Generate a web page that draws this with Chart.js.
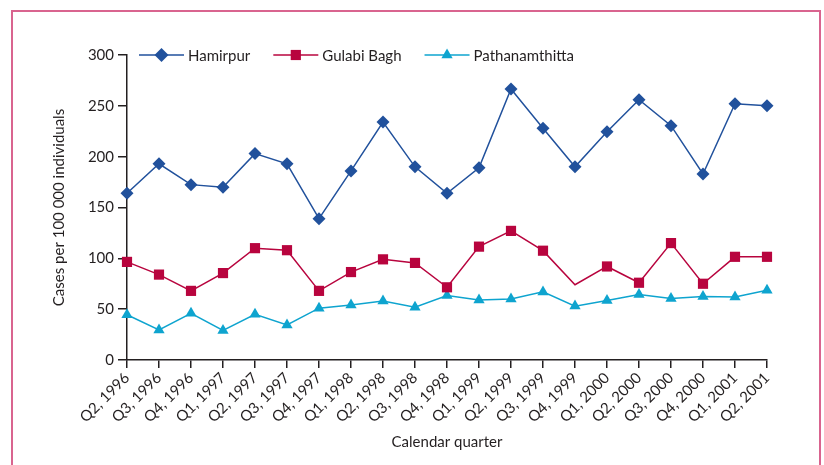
<!DOCTYPE html>
<html>
<head>
<meta charset="utf-8">
<script src="https://cdn.jsdelivr.net/npm/chart.js@4/dist/chart.umd.min.js"></script>
<style>
  html, body { margin: 0; padding: 0; background: #fff; overflow: hidden; }
  #frame {
    position: absolute; left: 11px; top: 10px; width: 810px; height: 560px;
    border: 2px solid #d9648f; box-sizing: border-box;
  }
  #wrap { position: absolute; left: 0; top: 0; width: 824px; height: 465px; }
</style>
</head>
<body>
<div id="frame"></div>
<div id="wrap"><canvas id="chart" width="824" height="465"></canvas></div>
<script>
// Quarterly incidence, cases per 100 000 individuals
const quarters = [
  'Q2, 1996', 'Q3, 1996', 'Q4, 1996', 'Q1, 1997', 'Q2, 1997', 'Q3, 1997', 'Q4, 1997',
  'Q1, 1998', 'Q2, 1998', 'Q3, 1998', 'Q4, 1998', 'Q1, 1999', 'Q2, 1999', 'Q3, 1999',
  'Q4, 1999', 'Q1, 2000', 'Q2, 2000', 'Q3, 2000', 'Q4, 2000', 'Q1, 2001', 'Q2, 2001'
];
const hamirpur = [164, 193, 172.5, 170, 203, 193, 139, 186, 234, 190, 164, 189, 266.5, 228, 190, 224.5, 256, 230.5, 183, 252, 250];
const gulabiBagh = [96.5, 84, 68, 85.5, 110, 108, 68, 86.5, 99, 95.5, 71.5, 111.5, 127, 107.5, 74, 92, 76, 115, 75, 101.5, 101.5];
const pathanamthitta = [44.5, 29.5, 46, 29, 45, 34.5, 51, 54, 58, 52, 63.5, 59, 60, 67, 53, 58.5, 64.5, 60.5, 62.5, 62, 68.5];
// Quarters where the Gulabi Bagh series has no plotted marker
const gulabiUnmarked = ['Q4, 1999'];
const yTicks = [0, 50, 100, 150, 200, 250, 300];

const FONT = 'Lato, "Open Sans", sans-serif';
const INK = '#231f20';

function drawMarker(ctx, style, x, y, r, color) {
  ctx.save();
  ctx.fillStyle = color;
  ctx.beginPath();
  if (style === 'rectRot') {
    ctx.moveTo(x - r, y); ctx.lineTo(x, y - r); ctx.lineTo(x + r, y); ctx.lineTo(x, y + r);
  } else if (style === 'rect') {
    const s = r * Math.SQRT1_2;
    ctx.rect(x - s, y - s, 2 * s, 2 * s);
  } else {
    for (let i = 0; i < 3; i++) {
      const a = i * 2 * Math.PI / 3;
      const px = x + Math.sin(a) * r, py = y - Math.cos(a) * r;
      if (i === 0) ctx.moveTo(px, py); else ctx.lineTo(px, py);
    }
  }
  ctx.closePath();
  ctx.fill();
  ctx.restore();
}

// Legend: short line with the series marker, then the label
const lineLegend = {
  id: 'lineLegend',
  afterDraw(chart) {
    const ctx = chart.ctx;
    const y = chart.chartArea.top;
    let x = 139;
    ctx.save();
    ctx.font = '15px ' + FONT;
    ctx.textBaseline = 'middle';
    chart.data.datasets.forEach(ds => {
      ctx.strokeStyle = ds.borderColor;
      ctx.lineWidth = 1.5;
      ctx.beginPath();
      ctx.moveTo(x, y); ctx.lineTo(x + 45, y);
      ctx.stroke();
      drawMarker(ctx, ds.pointStyle, x + 22.5, y, ds.legendRadius, ds.borderColor);
      ctx.fillStyle = INK;
      ctx.fillText(ds.label, x + 49, y + 1);
      x += 49 + ctx.measureText(ds.label).width + 23;
    });
    ctx.restore();
  }
};

new Chart(document.getElementById('chart'), {
  type: 'line',
  data: {
    labels: quarters,
    datasets: [
      {
        label: 'Hamirpur', data: hamirpur,
        borderColor: '#21519c', backgroundColor: '#21519c',
        pointStyle: 'rectRot', pointRadius: 6.5, legendRadius: 7
      },
      {
        label: 'Gulabi Bagh', data: gulabiBagh,
        borderColor: '#b8043e', backgroundColor: '#b8043e',
        pointStyle: 'rect',
        pointRadius: c => gulabiUnmarked.includes(quarters[c.dataIndex]) ? 0 : 7.2,
        legendRadius: 7.2
      },
      {
        label: 'Pathanamthitta', data: pathanamthitta,
        borderColor: '#0ea4cf', backgroundColor: '#0ea4cf',
        pointStyle: 'triangle', pointRadius: 6.5, legendRadius: 6.5
      }
    ]
  },
  options: {
    responsive: false,
    animation: false,
    layout: { padding: { top: 55, right: 57, left: 0, bottom: 0 } },
    datasets: {
      line: { borderWidth: 1.5, tension: 0, clip: false, pointBorderWidth: 0, pointHoverRadius: 7 }
    },
    plugins: {
      legend: { display: false },
      tooltip: { enabled: false }
    },
    scales: {
      x: {
        offset: false,
        grid: { display: true, drawOnChartArea: false, drawTicks: true, tickLength: 8, color: INK, lineWidth: 1.5 },
        border: { display: true, color: INK, width: 1.5 },
        ticks: {
          autoSkip: false, maxRotation: 45, minRotation: 45, padding: 1,
          color: INK, font: { family: FONT, size: 15 }
        },
        title: {
          display: true, text: 'Calendar quarter', color: INK,
          font: { family: FONT, size: 15 }, padding: { top: 0, bottom: 14 }
        },
        afterFit: s => { s.height = 105; }
      },
      y: {
        min: 0, max: 300,
        afterBuildTicks: s => { s.ticks = yTicks.map(v => ({ value: v })); },
        grid: { display: true, drawOnChartArea: false, drawTicks: true, tickLength: 9, color: INK, lineWidth: 1.5 },
        border: { display: true, color: INK, width: 1.5 },
        ticks: { padding: 4, color: INK, font: { family: FONT, size: 15 } },
        title: {
          display: true, text: 'Cases per 100 000 individuals', color: INK,
          font: { family: FONT, size: 15 }, padding: { top: 50, bottom: 0 }
        },
        afterFit: s => { s.width = 127; }
      }
    }
  },
  plugins: [lineLegend]
});
</script>
</body>
</html>
